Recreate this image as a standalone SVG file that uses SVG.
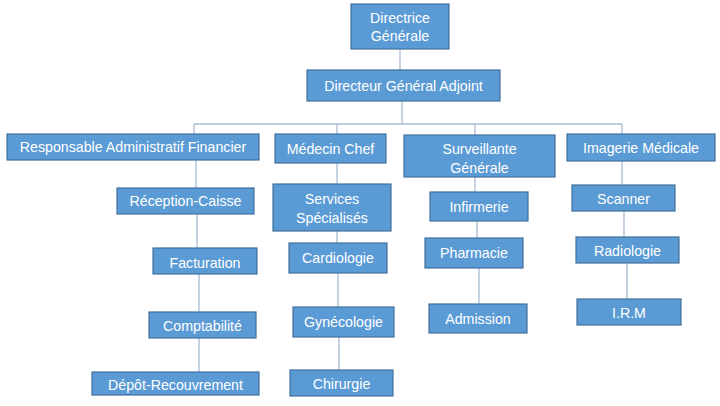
<svg xmlns="http://www.w3.org/2000/svg" width="720" height="406" viewBox="0 0 720 406">
<style>
.n rect{fill:#5B9BD5;stroke:#41719C;stroke-width:1.2}
.n text{fill:#fff;font-family:"Liberation Sans",Arial,sans-serif;font-size:14.2px;text-anchor:middle}
#edges line{stroke:#A8BBD3;stroke-width:1.3}
</style>
<rect width="720" height="406" fill="#fff"/>
<g id="edges">
<line x1="400" y1="49" x2="400" y2="70"/>
<line x1="402" y1="101" x2="402" y2="124"/>
<line x1="194" y1="124" x2="622" y2="124"/>
<line x1="194" y1="124" x2="194" y2="134"/>
<line x1="337" y1="124" x2="337" y2="134"/>
<line x1="475" y1="124" x2="475" y2="135"/>
<line x1="622" y1="124" x2="622" y2="134"/>
<line x1="196" y1="160" x2="196" y2="188"/>
<line x1="197" y1="214" x2="197" y2="248"/>
<line x1="199" y1="274" x2="199" y2="312"/>
<line x1="199" y1="338" x2="199" y2="372"/>
<line x1="337" y1="163" x2="337" y2="184"/>
<line x1="337" y1="231" x2="337" y2="243"/>
<line x1="338" y1="273" x2="338" y2="307"/>
<line x1="339" y1="337" x2="339" y2="370"/>
<line x1="475" y1="177" x2="475" y2="192"/>
<line x1="477" y1="221" x2="477" y2="238"/>
<line x1="479" y1="268" x2="479" y2="304"/>
<line x1="622" y1="161" x2="622" y2="185"/>
<line x1="624" y1="211" x2="624" y2="237"/>
<line x1="627" y1="263" x2="627" y2="299"/>
</g>
<g id="dg" class="n"><rect x="351" y="4" width="98" height="45"/><text x="400" y="23">Directrice</text><text x="400" y="41">Générale</text></g>
<g id="dga" class="n"><rect x="307" y="70" width="193" height="31"/><text x="403.5" y="90.5">Directeur Général Adjoint</text></g>
<g id="raf" class="n"><rect x="7" y="134" width="252" height="26"/><text x="133" y="152">Responsable Administratif Financier</text></g>
<g id="mc" class="n"><rect x="275" y="134" width="111" height="29"/><text x="330.5" y="153.5">Médecin Chef</text></g>
<g id="sg" class="n"><rect x="404" y="135" width="151" height="42"/><text x="479.5" y="154">Surveillante</text><text x="479.5" y="173">Générale</text></g>
<g id="im" class="n"><rect x="567" y="134" width="148" height="27"/><text x="641" y="153">Imagerie Médicale</text></g>
<g id="rc" class="n"><rect x="117" y="188" width="137" height="26"/><text x="185.5" y="206">Réception-Caisse</text></g>
<g id="fact" class="n"><rect x="153" y="248" width="104" height="26"/><text x="205" y="267.5">Facturation</text></g>
<g id="compta" class="n"><rect x="149" y="312" width="107" height="26"/><text x="202.5" y="331">Comptabilité</text></g>
<g id="depot" class="n"><rect x="92" y="372" width="167" height="23"/><text x="175.5" y="390">Dépôt-Recouvrement</text></g>
<g id="ss" class="n"><rect x="273" y="184" width="118" height="47"/><text x="332" y="204">Services</text><text x="332" y="223">Spécialisés</text></g>
<g id="cardio" class="n"><rect x="289" y="243" width="98" height="30"/><text x="338" y="262.5">Cardiologie</text></g>
<g id="gyneco" class="n"><rect x="293" y="307" width="101" height="30"/><text x="343.5" y="326.5">Gynécologie</text></g>
<g id="chir" class="n"><rect x="290" y="370" width="103" height="26"/><text x="341.5" y="388.5">Chirurgie</text></g>
<g id="inf" class="n"><rect x="430" y="192" width="98" height="29"/><text x="479" y="211.5">Infirmerie</text></g>
<g id="pharma" class="n"><rect x="425" y="238" width="98" height="30"/><text x="474" y="257.5">Pharmacie</text></g>
<g id="adm" class="n"><rect x="429" y="304" width="98" height="29"/><text x="478" y="323.5">Admission</text></g>
<g id="scan" class="n"><rect x="572" y="185" width="103" height="26"/><text x="623.5" y="203.5">Scanner</text></g>
<g id="radio" class="n"><rect x="576" y="237" width="103" height="26"/><text x="627.5" y="255.5">Radiologie</text></g>
<g id="irm" class="n"><rect x="577" y="299" width="104" height="26"/><text x="629" y="317.5">I.R.M</text></g>
</svg>
